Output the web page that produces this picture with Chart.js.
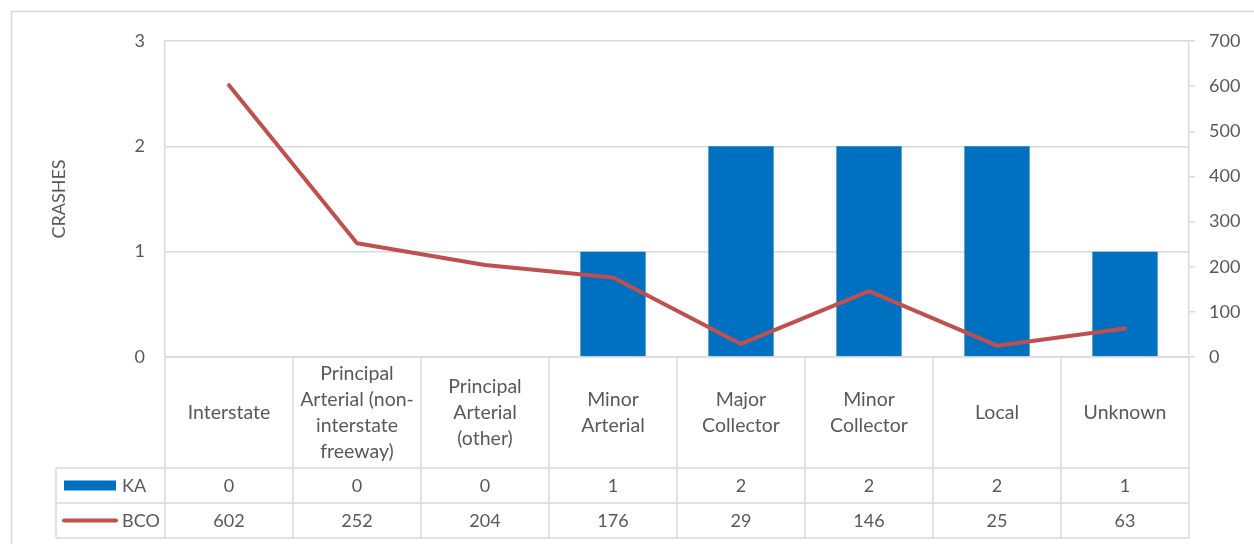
<!DOCTYPE html>
<html>
<head>
<meta charset="utf-8">
<script src="https://cdn.jsdelivr.net/npm/chart.js@4.4.1/dist/chart.umd.min.js"></script>
<style>
html,body{margin:0;padding:0;background:#fff;}
canvas{display:block;}
</style>
</head>
<body>
<canvas id="c" width="1254" height="544"></canvas>
<script>
const categories = [
  ["Interstate"],
  ["Principal", "Arterial (non-", "interstate", "freeway)"],
  ["Principal", "Arterial", "(other)"],
  ["Minor", "Arterial"],
  ["Major", "Collector"],
  ["Minor", "Collector"],
  ["Local"],
  ["Unknown"]
];
const kaValues = [0, 0, 0, 1, 2, 2, 2, 1];
const bcoValues = [602, 252, 204, 176, 29, 146, 25, 63];
const leftTicks = [0, 1, 2, 3];
const rightTicks = [0, 100, 200, 300, 400, 500, 600, 700];
const seriesNames = ["KA", "BCO"];
const axisTitle = "CRASHES";

const TEXT = '#595959';
const GRID = '#D9D9D9';
const BLUE = '#0070C0';
const RED = '#C0504D';
const FONT = 'Lato, "Open Sans", sans-serif';
const FS = 18;
const FS_CAT = 19.5;

const tablePlugin = {
  id: 'tablePlugin',
  beforeDraw(chart) {
    const ctx = chart.ctx;
    ctx.save();
    ctx.fillStyle = '#fff';
    ctx.fillRect(0, 0, chart.width, chart.height);
    ctx.strokeStyle = GRID;
    ctx.lineWidth = 1.5;
    ctx.strokeRect(11.5, 11.5, 1400, 700);
    ctx.restore();
  },
  afterDraw(chart) {
    const ctx = chart.ctx;
    const x = chart.scales.x;
    const area = chart.chartArea;
    const n = categories.length;
    const step = (area.right - area.left) / n;
    const top = area.bottom;
    const labelBottom = top + 111;
    const row1Bottom = labelBottom + 35;
    const row2Bottom = row1Bottom + 35;
    const legendLeft = 56;
    ctx.save();
    ctx.strokeStyle = GRID;
    ctx.lineWidth = 1.5;
    ctx.beginPath();
    ctx.moveTo(area.left, top); ctx.lineTo(area.right, top);
    [labelBottom, row1Bottom, row2Bottom].forEach(y => { ctx.moveTo(legendLeft, y); ctx.lineTo(area.right, y); });
    for (let i = 0; i <= n; i++) {
      const vx = area.left + i * step;
      ctx.moveTo(vx, top); ctx.lineTo(vx, row2Bottom);
    }
    ctx.moveTo(legendLeft, labelBottom); ctx.lineTo(legendLeft, row2Bottom);
    ctx.stroke();

    ctx.fillStyle = TEXT;
    ctx.textAlign = 'center';
    ctx.textBaseline = 'middle';
    const lh = 26;
    categories.forEach((lines, i) => {
      const cx = x.getPixelForValue(i);
      const cy = (top + labelBottom) / 2 + 0.5;
      const startY = cy - (lines.length - 1) * lh / 2;
      ctx.font = FS_CAT + 'px ' + FONT;
      lines.forEach((t, j) => ctx.fillText(t, cx, startY + j * lh));
      ctx.font = FS + 'px ' + FONT;
      ctx.fillText(String(kaValues[i]), cx, (labelBottom + row1Bottom) / 2 + 1);
      ctx.fillText(String(bcoValues[i]), cx, (row1Bottom + row2Bottom) / 2 + 1);
    });
    const r1 = (labelBottom + row1Bottom) / 2;
    const r2 = (row1Bottom + row2Bottom) / 2;
    ctx.fillStyle = BLUE;
    ctx.fillRect(64, r1 - 5, 52, 10);
    ctx.strokeStyle = RED;
    ctx.lineWidth = 4;
    ctx.lineCap = 'round';
    ctx.beginPath();
    ctx.moveTo(64, r2); ctx.lineTo(116, r2);
    ctx.stroke();
    ctx.fillStyle = TEXT;
    ctx.font = FS + 'px ' + FONT;
    ctx.textAlign = 'left';
    ctx.fillText(seriesNames[0], 122, r1 + 1);
    ctx.fillText(seriesNames[1], 122, r2 + 1);
    ctx.restore();
  }
};

new Chart(document.getElementById('c'), {
  data: {
    labels: categories.map(c => c.join(' ')),
    datasets: [
      {
        type: 'line', label: seriesNames[1], data: bcoValues, yAxisID: 'y1',
        borderColor: RED, borderWidth: 4, pointRadius: 0, tension: 0,
        borderCapStyle: 'round', borderJoinStyle: 'round', order: 0
      },
      {
        type: 'bar', label: seriesNames[0], data: kaValues, yAxisID: 'y',
        backgroundColor: BLUE, barPercentage: 1, categoryPercentage: 0.51, order: 1
      }
    ]
  },
  options: {
    responsive: false,
    animation: false,
    layout: { padding: { top: 41, left: 0, right: 0, bottom: 0 } },
    plugins: { legend: { display: false }, tooltip: { enabled: false } },
    scales: {
      x: {
        grid: { display: false }, border: { display: false }, ticks: { display: false },
        afterFit(s) { s.height = 187; }
      },
      y: {
        position: 'left', min: 0, max: 3,
        afterBuildTicks(s) { s.ticks = leftTicks.map(v => ({ value: v })); },
        ticks: { padding: 20, color: TEXT, font: { family: FONT, size: FS } },
        grid: { color: GRID, lineWidth: 1.5, drawTicks: false },
        border: { display: true, color: GRID, width: 1.5 },
        title: { display: true, text: axisTitle, color: TEXT, font: { family: FONT, size: FS }, padding: { top: 48, bottom: 0 } },
        afterFit(s) { s.width = 165; }
      },
      y1: {
        position: 'right', min: 0, max: 700,
        afterBuildTicks(s) { s.ticks = rightTicks.map(v => ({ value: v })); },
        ticks: { padding: 14, color: TEXT, font: { family: FONT, size: FS } },
        grid: { drawOnChartArea: false, color: GRID, lineWidth: 1.5, tickLength: 6 },
        border: { display: true, color: GRID, width: 1.5 },
        afterFit(s) { s.width = 65; }
      }
    }
  },
  plugins: [tablePlugin]
});
</script>
</body>
</html>
